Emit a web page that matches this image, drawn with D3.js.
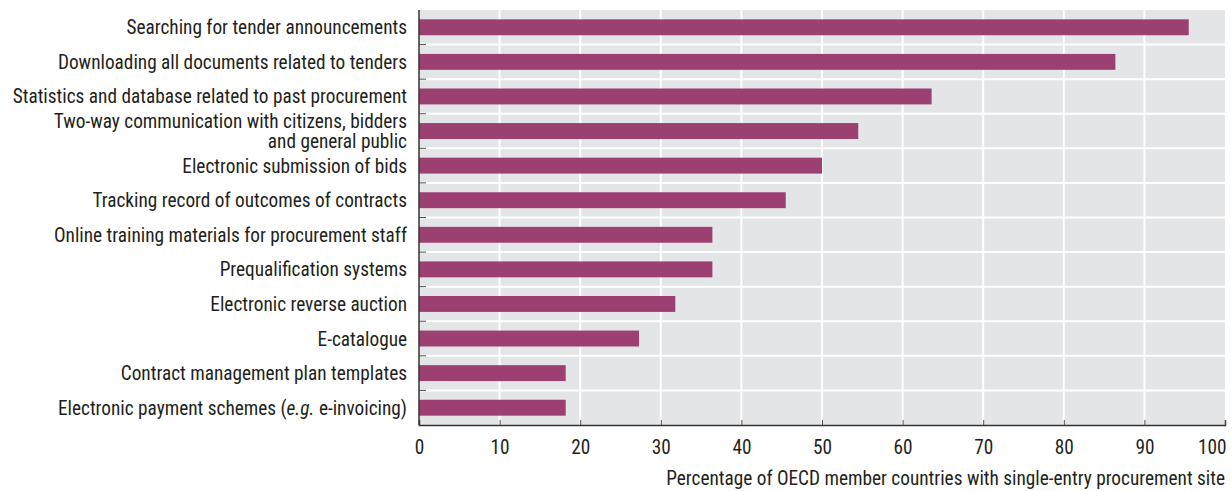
<!DOCTYPE html>
<html>
<head>
<meta charset="utf-8">
<script src="https://cdn.jsdelivr.net/npm/d3@7"></script>
<style>
  body { margin: 0; background: #fff; }
  svg text { font-family: "Liberation Sans Narrow", "Roboto Condensed", "Arial Narrow", sans-serif; fill: #231f20; }
</style>
</head>
<body>
<svg id="chart"></svg>
<script>
// categories (top to bottom); multi-line labels split with |
const categories = [
  "Searching for tender announcements",
  "Downloading all documents related to tenders",
  "Statistics and database related to past procurement",
  "Two-way communication with citizens, bidders|and general public",
  "Electronic submission of bids",
  "Tracking record of outcomes of contracts",
  "Online training materials for procurement staff",
  "Prequalification systems",
  "Electronic reverse auction",
  "E-catalogue",
  "Contract management plan templates",
  "Electronic payment schemes (e.g. e-invoicing)"
];
const values = [95.5, 86.4, 63.6, 54.5, 50.0, 45.5, 36.4, 36.4, 31.8, 27.3, 18.2, 18.2];
const xTicks = [0, 10, 20, 30, 40, 50, 60, 70, 80, 90, 100];
const xTitle = "Percentage of OECD member countries with single-entry procurement site";

const W = 1232, H = 491;
const margin = { top: 10, right: 7, bottom: 66, left: 419 };
const width = W - margin.left - margin.right;
const height = H - margin.top - margin.bottom;
const fs = 19.3;

const svg = d3.select("#chart").attr("width", W).attr("height", H);
const g = svg.append("g").attr("transform", `translate(${margin.left},${margin.top})`);

const x = d3.scaleLinear().domain([0, 100]).range([0, width]);
const y = d3.scaleBand().domain(categories).range([0, height]).paddingInner(0.54).paddingOuter(0.27);
const step = y.step();

// background
g.append("rect").attr("width", width).attr("height", height).attr("fill", "#e4e5e7");

// vertical gridlines
g.selectAll(".vgrid").data(xTicks.slice(1, -1)).join("line")
  .attr("x1", d => x(d)).attr("x2", d => x(d))
  .attr("y1", 0).attr("y2", height)
  .attr("stroke", "#fff").attr("stroke-width", 2);

// horizontal gridlines at band boundaries
const bounds = d3.range(1, categories.length);
g.selectAll(".hgrid").data(bounds).join("line")
  .attr("x1", 0).attr("x2", width)
  .attr("y1", d => d * step).attr("y2", d => d * step)
  .attr("stroke", "#fff").attr("stroke-width", 2);

// bars
g.selectAll(".bar").data(values).join("rect")
  .attr("x", 0)
  .attr("y", (d, i) => y(categories[i]))
  .attr("width", d => x(d))
  .attr("height", y.bandwidth())
  .attr("fill", "#9b4070");

// y tick marks at band boundaries (inward)
g.selectAll(".ytick").data(bounds).join("line")
  .attr("x1", 0).attr("x2", 7)
  .attr("y1", d => d * step).attr("y2", d => d * step)
  .attr("stroke", "#4d4d4d").attr("stroke-width", 1);

// x axis
const xAxis = g.append("g").attr("transform", `translate(0,${height})`)
  .call(d3.axisBottom(x).tickValues(xTicks).tickSize(-5).tickPadding(15).tickFormat(d3.format("d")));
xAxis.select(".domain").attr("stroke", "#333").attr("stroke-width", 1.5);
xAxis.selectAll(".tick line").attr("stroke", "#4d4d4d");
xAxis.selectAll(".tick text").attr("font-size", fs).attr("fill", "#231f20").attr("font-family", null);
xAxis.selectAll(".tick text").filter(d => d === 100).attr("text-anchor", "end").attr("dx", 1);

// y axis line
g.append("line").attr("x1", 0).attr("x2", 0).attr("y1", 0).attr("y2", height)
  .attr("stroke", "#333").attr("stroke-width", 1.5);

// category labels
const labels = g.selectAll(".cat").data(categories).join("text")
  .attr("text-anchor", "end")
  .attr("font-size", fs)
  .attr("x", -12)
  .attr("y", d => y(d) + y.bandwidth() / 2);
labels.each(function (d) {
  const t = d3.select(this);
  const lines = d.split("|");
  const lh = 19.5;
  lines.forEach((line, i) => {
    const ts = t.append("tspan").attr("x", -12)
      .attr("dy", i === 0 ? ((-(lines.length - 1) * lh / 2) + 7) + "px" : lh + "px");
    if (line.includes("(e.g.")) {
      const parts = line.split("e.g.");
      ts.text(parts[0]);
      t.append("tspan").attr("font-style", "italic").text("e.g.");
      t.append("tspan").text(parts[1]);
    } else {
      ts.text(line);
    }
  });
});

// x axis title
g.append("text")
  .attr("x", width).attr("y", height + 60)
  .attr("text-anchor", "end").attr("font-size", fs)
  .text(xTitle);
</script>
</body>
</html>
